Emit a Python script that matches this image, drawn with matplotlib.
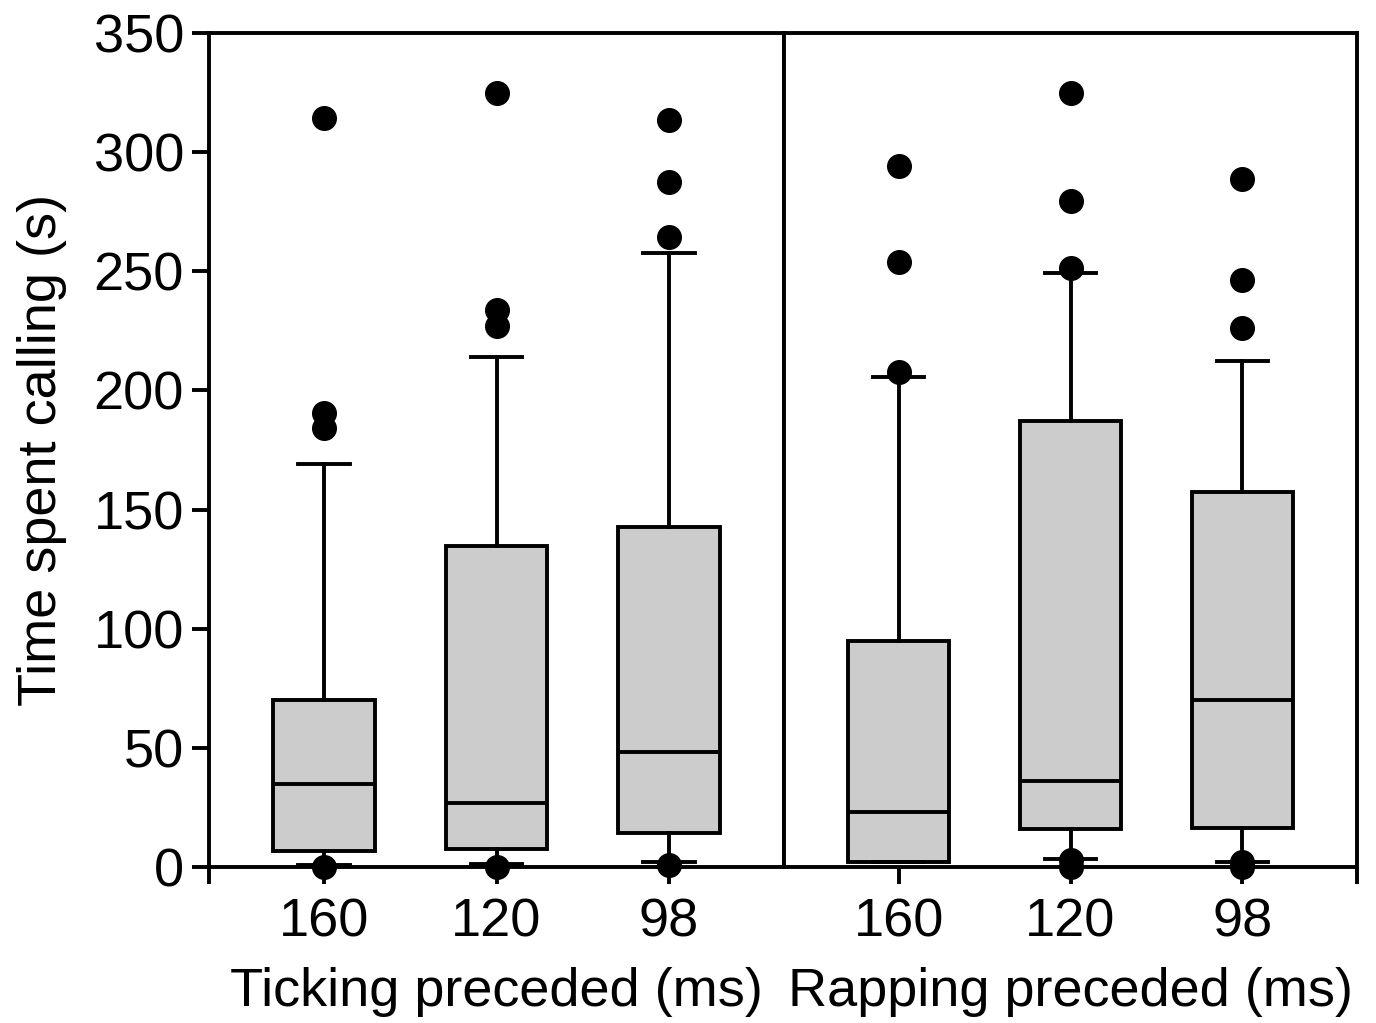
import matplotlib
matplotlib.use("Agg")
import matplotlib.pyplot as plt

plt.rcParams['font.family'] = ['Liberation Sans', 'DejaVu Sans']

categories = ['160', '120', '98']

tick_q1 = [6.7, 7.4, 14.4]
tick_med = [34.7, 26.7, 48.1]
tick_q3 = [70.1, 134.7, 142.5]
tick_whislo = [0.9, 1.1, 2.2]
tick_whishi = [169.0, 213.9, 257.5]
tick_fliers = [[314.4, 190.6, 184.1, 0.0],
               [324.7, 233.7, 227.2, 0.0],
               [313.5, 287.5, 264.5, 1.0]]

rap_q1 = [2.2, 15.9, 16.5]
rap_med = [23.0, 36.1, 70.1]
rap_q3 = [94.8, 187.3, 157.5]
rap_whislo = [2.2, 3.4, 2.2]
rap_whishi = [205.7, 249.4, 212.5]
rap_fliers = [[294.0, 253.9, 207.6],
              [324.9, 279.5, 251.2, 3.0, 0.0],
              [288.7, 246.3, 226.0, 2.0, 0.0]]

y_ticks = [0, 50, 100, 150, 200, 250, 300, 350]


def make_stats(q1, med, q3, lo, hi, fl):
    return [dict(q1=a, med=b, q3=c, whislo=d, whishi=e, fliers=f, label=lab)
            for a, b, c, d, e, f, lab in zip(q1, med, q3, lo, hi, fl, categories)]


fig = plt.figure(figsize=(13.76, 10.23), dpi=100)
L, R, B, T = 209 / 1376, 1357 / 1376, 1 - 867 / 1023, 1 - 33 / 1023
mid = 784 / 1376
ax1 = fig.add_axes([L, B, mid - L, T - B])
ax2 = fig.add_axes([mid, B, R - mid, T - B], sharey=ax1)

lw = 2.8
fs = 39
common = dict(
    widths=0.59,
    patch_artist=True,
    boxprops=dict(facecolor='#cccccc', edgecolor='black', linewidth=lw),
    medianprops=dict(color='black', linewidth=lw),
    whiskerprops=dict(color='black', linewidth=lw),
    capprops=dict(color='black', linewidth=lw),
    flierprops=dict(marker='o', markerfacecolor='black', markeredgecolor='black',
                    markersize=17, linestyle='none'),
    capwidths=0.3,
)

ax1.bxp(make_stats(tick_q1, tick_med, tick_q3, tick_whislo, tick_whishi, tick_fliers),
        positions=[1, 2, 3], **common)
ax2.bxp(make_stats(rap_q1, rap_med, rap_q3, rap_whislo, rap_whishi, rap_fliers),
        positions=[1, 2, 3], **common)

x0, x1 = 1 - 0.2 / 0.3, 3 + 0.2 / 0.3
for ax in (ax1, ax2):
    ax.set_xlim(x0, x1)
    ax.set_ylim(0, 350)
    for s in ax.spines.values():
        s.set_linewidth(lw)
    ax.tick_params(axis='both', direction='out', length=12, width=lw,
                   labelsize=fs, pad=6)
    ax.tick_params(axis='x', pad=10)

ax1.set_xticks([x0, 1, 2, 3])
ax1.set_xticklabels([''] + categories)
ax2.set_xticks([1, 2, 3, x1])
ax2.set_xticklabels(categories + [''])

ax1.set_yticks(y_ticks)
ax1.set_yticklabels([str(v) for v in y_ticks])
ax2.tick_params(axis='y', left=False, labelleft=False)

ax1.set_xlabel('Ticking preceded (ms)', fontsize=fs, labelpad=14)
ax2.set_xlabel('Rapping preceded (ms)', fontsize=fs, labelpad=14)
ax1.set_ylabel('Time spent calling (s)', fontsize=fs, labelpad=19)

for ax in (ax1, ax2):
    for art in ax.get_children():
        try:
            art.set_clip_on(False)
        except Exception:
            pass

fig.savefig('out.png', dpi=100)
